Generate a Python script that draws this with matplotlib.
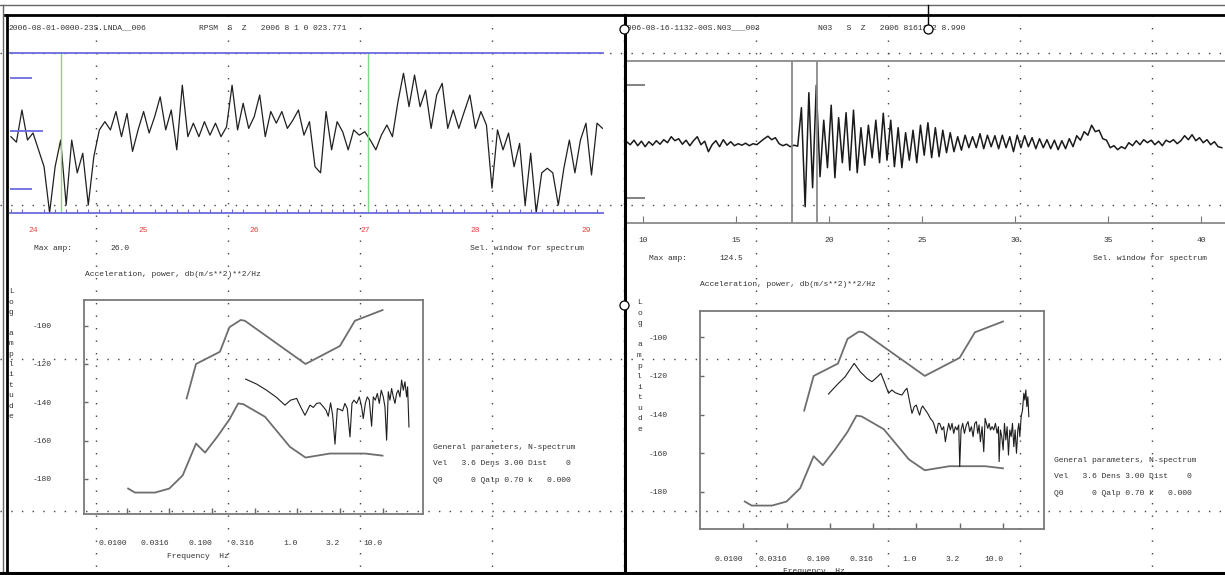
import matplotlib.pyplot as plt
import numpy as np

plt.rcParams['font.family'] = ['Liberation Mono', 'DejaVu Sans Mono']
plt.rcParams['xtick.direction'] = 'in'
plt.rcParams['ytick.direction'] = 'in'

W, H = 1225, 575
FS = 5.8
TXT = '#333333'

# ---------------- left record ----------------
left_header = "2006-08-01-0000-23S.LNDA__006"
left_station = "RPSM  S  Z   2006 8 1 0 023.771"
left_maxamp = "26.0"
left_t0, left_dt = 23.80, 0.05
left_trace = [
    -1.2, -3, 7.5, -2.3, 0, -5.5, -11, -26, -11, -2.3,
    -23.5, -2.3, -13, -6.6, -23.5, -7.7, 1.0, 3.7, 1, 7,
    -1.2, 6.4, -6, 1, 7, 0, 5.3, 11.8, 1, 7.5,
    -5.5, 15.6, -1.2, 3.2, -1.2, 3.7, -0.7, 3.2, -1.2, 2,
    15.6, 1, 9.7, 1.5, 5.3, 12.4, -1.2, 7, 3.2, 7,
    1.5, 4.2, 7.5, -0.7, 3.7, -11, -13, 7, -5.5, 3.7,
    0.4, -5.5, 1, -0.7, 0.4, -2.3, -5.5, -0.7, 2.6, -1.2,
    10.2, 19.5, 8.6, 18.9, 8.6, 14, 1.5, 12.4, 16.2, 1.5,
    7.5, 1.5, 7, 12.4, 1.5, 7, 2.6, -18, 1, -5.5,
    0, -11, -3.4, -23.5, -6.6, -26, -13, -11.5, -13, -23.5,
    -11.5, -2.3, -13, -2.3, 3.2, -13.7, 3.2, 1.5,
]
left_window = [24.25, 27.03]
left_ticks = [24, 25, 26, 27, 28, 29]

# ---------------- right record ----------------
right_header = "2006-08-16-1132-00S.N03___003"
right_station = "N03   S  Z   2006 8161132 8.990"
right_maxamp = "124.5"
right_t0, right_dt = 9.1, 0.2
right_trace = [
    2, -4, 5, -6, 3, -8, 2, -5, 4, -3,
    6, 0, 12, 4, 8, -3, 5, -6, 4, 12,
    -4, 3, -18, -4, 4, -8, 6, -5, 2, -6,
    -2, -5, -1, -6, -2, -4, 2, 8, 13, 6,
    10, -2, -6, -3, -8, -5, -7, 70, -128, 100,
    -90, 115, -68, 45, -50, 75, -70, 50, -40, 60,
    -55, 65, -60, 30, -45, 35, -30, 45, -40, 59,
    -35, 45, -48, 30, -50, 20, -35, 25, -40, 35,
    -25, 40, -30, 30, -28, 25, -20, 20, -18, 12,
    -15, 15, -10, 12, -10, 18, -12, 15, -8, 14,
    -12, 15, -10, 12, -18, 15, -10, 14, -8, 10,
    -12, 8, -10, 6, -12, 5, -14, 4, -12, 8,
    -8, 14, 5, 22, 15, 35, 22, 25, 8, 5,
    -10, -6, -14, -8, -12, 0, -6, 4, -4, 6,
    0, 5, -4, 3, -6, 5, 1, 6, -2, 4,
    14, 6, 16, 4, 10, 0, 6, -4, 2, -8, -10,
]
right_window = [18.01, 19.32]
right_ticks = [10, 15, 20, 25, 30, 35, 40]

# ---------------- spectra ----------------
freq_ticks = [0.01, 0.0316, 0.1, 0.316, 1.0, 3.16, 10.0]
freq_labels = ["0.0100", "0.0316", "0.100", "0.316", "1.0", "3.2", "10.0"]
db_ticks = [-100, -120, -140, -160, -180]

nhnm_f = [0.0505, 0.065, 0.124, 0.16, 0.217, 0.243, 1.25, 3.16, 4.74, 10.0]
nhnm_db = [-138.0, -120.0, -113.6, -100.8, -97.0, -97.4, -120.0, -110.6, -97.4, -91.8]
nlnm_f = [0.0104, 0.0125, 0.0215, 0.0316, 0.0454, 0.065, 0.083, 0.115, 0.16,
          0.203, 0.233, 0.419, 0.82, 1.25, 2.41, 6.23, 10.0]
nlnm_db = [-185.1, -187.2, -187.2, -185.1, -178.2, -161.6, -166.3, -158.1, -149.0,
           -140.6, -141.0, -147.6, -163.3, -168.9, -166.8, -166.8, -167.9]

left_spec_f = [0.248, 0.334, 0.437, 0.573, 0.717, 0.836, 0.983, 1.095, 1.231, 1.409,
               1.541, 1.687, 1.845, 2.02, 2.17, 2.31, 2.46, 2.60, 2.77, 2.95,
               3.17, 3.40, 3.62, 3.86, 4.15, 4.38, 4.62, 4.97, 5.34, 5.68,
               5.94, 6.28, 6.62, 6.99, 7.44, 7.79, 8.22, 8.68, 9.16, 9.66,
               10.2, 10.67, 11.16, 11.67, 12.21, 12.77, 13.36, 13.98, 14.62, 15.29,
               16.0, 16.73, 17.5, 18.3, 19.15, 19.67, 20.4]
left_spec_db = [-127.9, -130.5, -133.7, -137.5, -141.5, -138.9, -138.0, -142.4, -146.8, -141.5,
                -142.7, -140.6, -140.3, -142.4, -144.1, -147.3, -140.3, -146.8, -161.9, -143.3,
                -143.8, -144.5, -140.6, -143.3, -158.1, -140.6, -138.9, -140.6, -137.2, -142.4,
                -148.5, -140.6, -137.2, -138.9, -152.5, -137.2, -138.9, -135.4, -140.6, -133.7,
                -137.2, -142.4, -159.8, -134.5, -138.9, -132.8, -137.2, -140.6, -135.4, -133.7,
                -137.2, -128.4, -133.7, -129.3, -137.2, -131.9, -152.9]

right_spec_f = [0.0964, 0.1204, 0.1504, 0.191, 0.224, 0.268, 0.306, 0.350, 0.389, 0.425,
                0.477, 0.521, 0.570, 0.623, 0.681, 0.744, 0.778, 0.835, 0.889, 0.946,
                0.997, 1.052, 1.090, 1.139, 1.181, 1.268, 1.349, 1.448, 1.555, 1.626,
                1.700, 1.792, 1.857, 1.976, 2.066, 2.160, 2.258, 2.361, 2.468, 2.580,
                2.697, 2.819, 2.948, 3.082, 3.165, 3.280, 3.429, 3.584, 3.780, 3.952,
                4.131, 4.319, 4.515, 4.721, 4.935, 5.113, 5.298, 5.489, 5.740, 6.0,
                6.22, 6.44, 6.68, 6.92, 7.17, 7.49, 7.83, 8.19, 8.56, 8.87,
                9.03, 9.36, 9.69, 10.05, 10.41, 10.79, 11.17, 11.58, 12.0, 12.43,
                12.88, 13.35, 13.83, 14.33, 14.85, 15.25, 15.66, 16.23, 16.82, 17.43,
                17.89, 18.38, 18.87, 19.39, 19.91]
right_spec_db = [-129.4, -124.7, -120.4, -113.5, -117.8, -121.3, -123.0, -120.7, -118.7, -123.0,
                 -129.0, -127.3, -128.7, -129.4, -129.9, -127.3, -126.4, -133.3, -139.4, -135.9,
                 -135.1, -138.5, -140.3, -136.8, -135.6, -137.7, -139.4, -142.0, -143.7, -146.3,
                 -149.8, -144.6, -144.6, -148.0, -146.3, -154.1, -148.9, -144.6, -148.0, -144.6,
                 -149.8, -146.3, -148.0, -145.4, -167.0, -148.0, -144.6, -149.8, -145.4, -143.7,
                 -148.9, -146.3, -151.5, -144.6, -143.7, -149.8, -145.4, -154.1, -146.3, -159.3,
                 -142.0, -144.6, -147.2, -144.6, -148.0, -146.3, -148.0, -144.6, -149.8, -146.3,
                 -164.4, -148.0, -151.5, -158.4, -144.6, -153.2, -146.3, -161.0, -148.0, -151.5,
                 -144.6, -156.7, -148.0, -160.1, -148.0, -144.6, -151.5, -141.1, -137.7, -129.0,
                 -132.5, -127.3, -135.9, -130.8, -141.1]

general_lines = ["General parameters, N-spectrum",
                 "Vel   3.6 Dens 3.00 Dist    0",
                 "Q0      0 Qalp 0.70 k   0.000"]

fig = plt.figure(figsize=(W / 100, H / 100), dpi=100)
fig.patch.set_facecolor('white')


def px_axes(x0, y0, x1, y1, z):
    a = fig.add_axes([x0 / W, 1 - y1 / H, (x1 - x0) / W, (y1 - y0) / H], zorder=z)
    a.patch.set_visible(False)
    return a


def px_text(ax, x, y, s, **kw):
    kw.setdefault('color', TXT)
    kw.setdefault('fontsize', FS)
    ax.text(x, y, s, va='center', ha=kw.pop('ha', 'left'), **kw)


# background: screen grid and labels
bg = px_axes(0, 0, W, H, 0)
bg.set_xlim(0, W)
bg.set_ylim(H, 0)
bg.axis('off')
for gx in [95.5 + 132 * k for k in range(9)]:
    bg.plot([gx, gx], [15, 572], color='#444444', lw=1.0, ls=(0, (1, 8)))
for gy in [53.3, 205, 358.5, 511]:
    bg.plot([0, W], [gy, gy], color='#444444', lw=1.0, ls=(0, (1, 6.7)))

# ---------- left traces ----------
axL = px_axes(10, 53.3, 603, 212.7, 2)
tl = left_t0 + left_dt * np.arange(len(left_trace))
axL.plot(tl, left_trace, color='#202020', lw=0.9)
axL.set_xlim(23.792, 29.154)
axL.set_ylim(-26, 26)
for s in ['left', 'right']:
    axL.spines[s].set_visible(False)
for s in ['top', 'bottom']:
    axL.spines[s].set_color('#6b6bdc')
    axL.spines[s].set_linewidth(1.3)
axL.set_yticks([])
axL.set_xticks(left_ticks, labels=[str(v) for v in left_ticks])
axL.set_xticks(np.arange(23.8, 29.16, 0.1), minor=True)
axL.tick_params(axis='x', which='major', length=0, pad=10.5, labelsize=FS, labelcolor='#e8403a')
axL.tick_params(axis='x', which='minor', length=3, color='#6b6bdc', width=0.8)
for t in left_window:
    axL.axvline(t, color='#80dc80', lw=1.0)
axL.hlines([18.0, -18.3], 23.792, 23.99, color='#6b6bdc', lw=1.3)
axL.hlines([0.75], 23.792, 24.09, color='#6b6bdc', lw=1.3)

# ---------- right traces ----------
axR = px_axes(626, 60.7, 1225, 222.7, 2)
tr = right_t0 + right_dt * np.arange(len(right_trace))
axR.plot(tr, right_trace, color='#1a1a1a', lw=1.1)
axR.set_xlim(9.07, 41.27)
axR.set_ylim(-160, 164)
for s in ['left', 'right']:
    axR.spines[s].set_visible(False)
for s in ['top', 'bottom']:
    axR.spines[s].set_color('#8a8a8a')
    axR.spines[s].set_linewidth(1.3)
axR.set_yticks([])
axR.set_xticks(right_ticks, labels=[str(v) for v in right_ticks])
axR.tick_params(axis='x', length=5, color='#777777', pad=10.5,
                labelsize=FS, labelcolor=TXT)
for t in right_window:
    axR.axvline(t, color='#8a8a8a', lw=1.3)
axR.hlines([115.4, -111.2], 9.07, 10.09, color='#777777', lw=1.3)


# ---------- spectra ----------
def spectrum(box, ylim, spec_f, spec_db):
    ax = px_axes(*box, 2)
    ax.set_xscale('log')
    ax.plot(nhnm_f, nhnm_db, color='#6e6e6e', lw=1.3)
    ax.plot(nlnm_f, nlnm_db, color='#6e6e6e', lw=1.3)
    ax.plot(spec_f, spec_db, color='#1e1e1e', lw=0.8)
    ax.set_xlim(0.00316, 29.8)
    ax.set_ylim(*ylim)
    for s in ax.spines.values():
        s.set_color('#7a7a7a')
        s.set_linewidth(1.3)
    ax.set_xticks(freq_ticks, labels=freq_labels)
    ax.minorticks_off()
    ax.set_yticks(db_ticks, labels=[str(v) for v in db_ticks])
    ax.tick_params(axis='x', length=0, pad=19, labelsize=FS, labelcolor=TXT)
    ax.tick_params(axis='y', length=0, pad=23, labelsize=FS, labelcolor=TXT)
    for lbl in ax.get_xticklabels():
        lbl.set_ha('right')
    # short inward tick marks, like the screen plot
    bw = box[2] - box[0]
    bh = box[3] - box[1]
    ax.hlines(db_ticks, 0, 4 / bw, transform=ax.get_yaxis_transform(),
              color='#666666', lw=1.0)
    ax.vlines(freq_ticks, 0, 6 / bh, transform=ax.get_xaxis_transform(),
              color='#666666', lw=1.0)
    return ax


spectrum((84, 300, 423, 514), (-198.4, -86.55), left_spec_f, left_spec_db)
spectrum((700, 310.7, 1044, 529.3), (-199.5, -86.2), right_spec_f, right_spec_db)

# ---------- texts ----------
px_text(bg, 8, 28.3, left_header)
px_text(bg, 199, 28.3, left_station)
px_text(bg, 33.6, 248.3, "Max amp:")
px_text(bg, 110.7, 248.3, left_maxamp)
px_text(bg, 470.4, 248.3, "Sel. window for spectrum")
px_text(bg, 85, 274.3, "Acceleration, power, db(m/s**2)**2/Hz")
px_text(bg, 167, 557, "Frequency  Hz")
for i, ln in enumerate(general_lines):
    px_text(bg, 432.8, [447.7, 463.3, 480][i], ln)

px_text(bg, 622, 28.3, right_header)
px_text(bg, 818.5, 28.3, right_station)
px_text(bg, 649, 258.3, "Max amp:")
px_text(bg, 719.6, 258.3, right_maxamp)
px_text(bg, 1093, 258.3, "Sel. window for spectrum")
px_text(bg, 700, 284.3, "Acceleration, power, db(m/s**2)**2/Hz")
px_text(bg, 783, 571.7, "Frequency  Hz")
for i, ln in enumerate(general_lines):
    px_text(bg, 1054, [460, 476.7, 493.3][i], ln)

for x0, y0, step in [(11, 291.7, 10.4), (639.5, 302.7, 10.55)]:
    for k, ch in enumerate("Log amplitude"):
        if ch != ' ':
            px_text(bg, x0, y0 + step * k, ch, ha='center')

# ---------- window frame on top ----------
fr = px_axes(0, 0, W, H, 10)
fr.set_xlim(0, W)
fr.set_ylim(H, 0)
fr.axis('off')
fr.plot([0, W], [5, 5], color='#666666', lw=1.0)
fr.plot([5, W], [15, 15], color='black', lw=2.0)
fr.plot([2.5, 2.5], [5, 575], color='#666666', lw=1.0)
fr.plot([6.5, 6.5], [15, 572], color='black', lw=2.0)
fr.plot([0, W], [572.5, 572.5], color='black', lw=2.2)
fr.plot([624.5, 624.5], [15, 572], color='black', lw=2.2)
fr.plot([927.7, 927.7], [5, 25], color='black', lw=1.0)
fr.plot([624, 624, 927.7], [29.3, 305, 29.3], ls='none', marker='o', ms=6.5,
        mfc='white', mec='black', mew=0.9)

fig.savefig('out.png', dpi=100)
